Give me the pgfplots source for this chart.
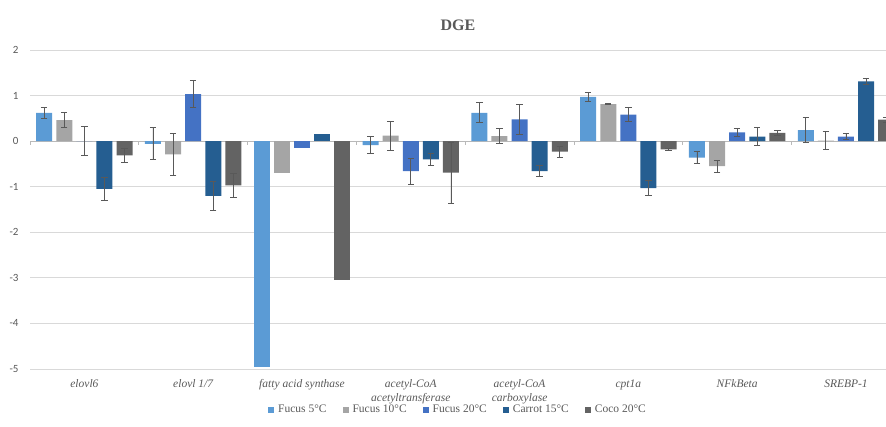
\documentclass[border=0pt]{standalone}
\usepackage{pgfplots}
\pgfplotsset{compat=1.18}
\usepackage{fontspec}
\setmainfont{Liberation Serif}
\newfontfamily\calib{Carlito}
\definecolor{cF5}{HTML}{5B9BD5}
\definecolor{cF10}{HTML}{A5A5A5}
\definecolor{cF20}{HTML}{4472C4}
\definecolor{cCar}{HTML}{255E91}
\definecolor{cCoco}{HTML}{636363}
\definecolor{txt}{HTML}{595959}
\definecolor{gridc}{HTML}{D9D9D9}
\definecolor{errc}{HTML}{595959}
\begin{document}
\begin{tikzpicture}
\useasboundingbox (0,0) rectangle (886pt,427pt);
\begin{axis}[
  at={(30pt,58pt)}, anchor=south west,
  scale only axis, width=856pt, height=319pt,
  xmin=-0.5, xmax=7.368, ymin=-5, ymax=2,
  ybar, bar width=16pt,
  axis line style={draw=none},
  major tick length=0pt,
  ytick={-5,-4,-3,-2,-1,0,1,2},
  ymajorgrids, grid style={gridc, line width=0.9pt},
  extra y ticks={0}, extra y tick labels={},
  extra y tick style={grid style={color=gray!55, line width=0.9pt}},
  /pgf/number format/assume math mode=true,
  yticklabel style={font=\calib\fontsize{11}{13}\selectfont, text=txt, anchor=east, xshift=-8pt},
  xtick={0,1,2,3,4,5,6,7},
  xticklabels={elovl6, elovl 1/7, fatty acid synthase, {acetyl-CoA\\acetyltransferase}, {acetyl-CoA\\carboxylase}, cpt1a, NFkBeta, SREBP-1},
  xticklabel style={font=\itshape\fontsize{11.5}{13.5}\selectfont, text=txt, align=center, anchor=north, yshift=-7pt},
  title={\textbf{DGE}},
  title style={font=\fontsize{16}{18}\selectfont, text=txt, at={(0.5,1)}, anchor=center, yshift=19pt, xshift=0pt},
  legend columns=5,
  legend style={draw=none, fill=none, at={(0.5,-0.128)}, anchor=center,
    font=\fontsize{11.5}{13}\selectfont, text=txt,
    /tikz/every odd column/.append style={column sep=2pt},
    /tikz/every even column/.append style={column sep=14pt}},
  legend image code/.code={\fill[#1,draw=none] (0pt,-3pt) rectangle (6pt,3pt);},
  error bars/y dir=both, error bars/y explicit,
  error bars/error bar style={errc, line width=0.9pt},
  error bars/error mark options={rotate=90, mark size=3.2pt, errc, line width=0.9pt},
]
% Fucus 5C
\addplot[fill=cF5, draw=none, bar shift=-40.2pt] coordinates {
 (0,0.62) +- (0,0.12) (1,-0.06) +- (0,0.35) (3,-0.09) +- (0,0.19) (4,0.62) +- (0,0.22)
 (5,0.97) +- (0,0.10) (6,-0.36) +- (0,0.14) (7,0.24) +- (0,0.27)};
\addlegendentry{Fucus 5°C}
\addplot[fill=cF5, draw=none, bar shift=-40.2pt, forget plot, error bars/y dir=none] coordinates {(2,-4.96)};
% Fucus 10C
\addplot[fill=cF10, draw=none, bar shift=-20.1pt] coordinates {
 (0,0.46) +- (0,0.17) (1,-0.29) +- (0,0.46) (3,0.12) +- (0,0.32) (4,0.11) +- (0,0.17)
 (5,0.81) +- (0,0.01) (6,-0.55) +- (0,0.13) (7,0.01) +- (0,0.20)};
\addlegendentry{Fucus 10°C}
\addplot[fill=cF10, draw=none, bar shift=-20.1pt, forget plot, error bars/y dir=none] coordinates {(2,-0.70)};
% Fucus 20C
\addplot[fill=cF20, draw=none, bar shift=0pt] coordinates {
 (0,0.0) +- (0,0.32) (1,1.03) +- (0,0.30) (3,-0.66) +- (0,0.29) (4,0.48) +- (0,0.33)
 (5,0.58) +- (0,0.15) (6,0.19) +- (0,0.09) (7,0.10) +- (0,0.06)};
\addlegendentry{Fucus 20°C}
\addplot[fill=cF20, draw=none, bar shift=0pt, forget plot, error bars/y dir=none] coordinates {(2,-0.16)};
% Carrot 15C
\addplot[fill=cCar, draw=none, bar shift=20.1pt] coordinates {
 (0,-1.05) +- (0,0.25) (1,-1.20) +- (0,0.31) (3,-0.40) +- (0,0.13) (4,-0.66) +- (0,0.12)
 (5,-1.03) +- (0,0.16) (6,0.10) +- (0,0.20) (7,1.31) +- (0,0.07)};
\addlegendentry{Carrot 15°C}
\addplot[fill=cCar, draw=none, bar shift=20.1pt, forget plot, error bars/y dir=none] coordinates {(2,0.15)};
% Coco 20C
\addplot[fill=cCoco, draw=none, bar shift=40.2pt] coordinates {
 (0,-0.31) +- (0,0.16) (1,-0.97) +- (0,0.27) (3,-0.69) +- (0,0.67) (4,-0.23) +- (0,0.12)
 (5,-0.18) +- (0,0.03) (6,0.18) +- (0,0.05) (7,0.47) +- (0,0.05)};
\addlegendentry{Coco 20°C}
\addplot[fill=cCoco, draw=none, bar shift=40.2pt, forget plot, error bars/y dir=none] coordinates {(2,-3.04)};
\foreach \k in {-0.5,0.5,1.5,2.5,3.5,4.5,5.5,6.5} {
  \edef\tmp{\noexpand\draw[gray!55, line width=0.8pt] (axis cs:\k,0) -- ++(0pt,-4pt);}\tmp
}
\end{axis}
\end{tikzpicture}
\end{document}
